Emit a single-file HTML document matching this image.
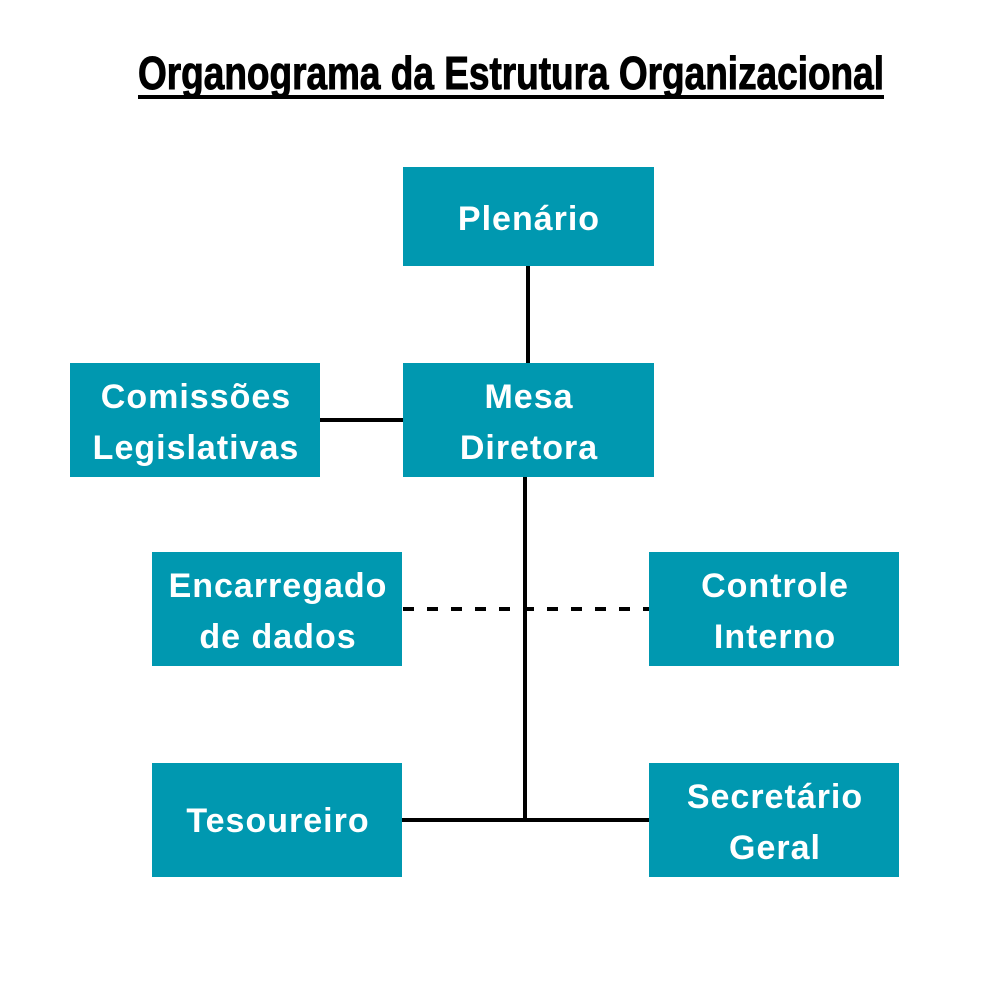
<!DOCTYPE html>
<html><head><meta charset="utf-8"><style>
html,body{margin:0;padding:0;background:#fff;}
</style></head><body>
<svg width="1000" height="1000" viewBox="0 0 1000 1000" xmlns="http://www.w3.org/2000/svg">
<rect width="1000" height="1000" fill="#fff"/>
<text x="138" y="89" font-family="Liberation Sans, sans-serif" font-weight="bold" font-size="46" textLength="746" lengthAdjust="spacingAndGlyphs" fill="#000" stroke="#000" stroke-width="1">Organograma da Estrutura Organizacional</text>
<rect x="138" y="95" width="746" height="4" fill="#000"/>
<g stroke="#000" stroke-width="4" fill="none">
<line x1="528" y1="266" x2="528" y2="364"/>
<line x1="320" y1="420" x2="404" y2="420"/>
<line x1="525" y1="477" x2="525" y2="822"/>
<line x1="402" y1="820" x2="650" y2="820"/>
<line x1="403" y1="609" x2="649" y2="609" stroke-dasharray="11 13"/>
</g>
<g fill="#0098b0">
<rect x="403" y="167" width="251" height="99"/>
<rect x="403" y="363" width="251" height="114"/>
<rect x="70" y="363" width="250" height="114"/>
<rect x="152" y="552" width="250" height="114"/>
<rect x="649" y="552" width="250" height="114"/>
<rect x="152" y="763" width="250" height="114"/>
<rect x="649" y="763" width="250" height="114"/>
</g>
<g fill="#fff" font-family="Liberation Sans, sans-serif" font-weight="bold" font-size="34" letter-spacing="1" text-anchor="middle">
<text x="529" y="230">Plenário</text>
<text x="529" y="408">Mesa</text>
<text x="529" y="459">Diretora</text>
<text x="196" y="408">Comissões</text>
<text x="196" y="459">Legislativas</text>
<text x="278" y="597">Encarregado</text>
<text x="278" y="648">de dados</text>
<text x="775" y="597">Controle</text>
<text x="775" y="648">Interno</text>
<text x="278" y="832">Tesoureiro</text>
<text x="775" y="808">Secretário</text>
<text x="775" y="859">Geral</text>
</g>
</svg>
</body></html>
